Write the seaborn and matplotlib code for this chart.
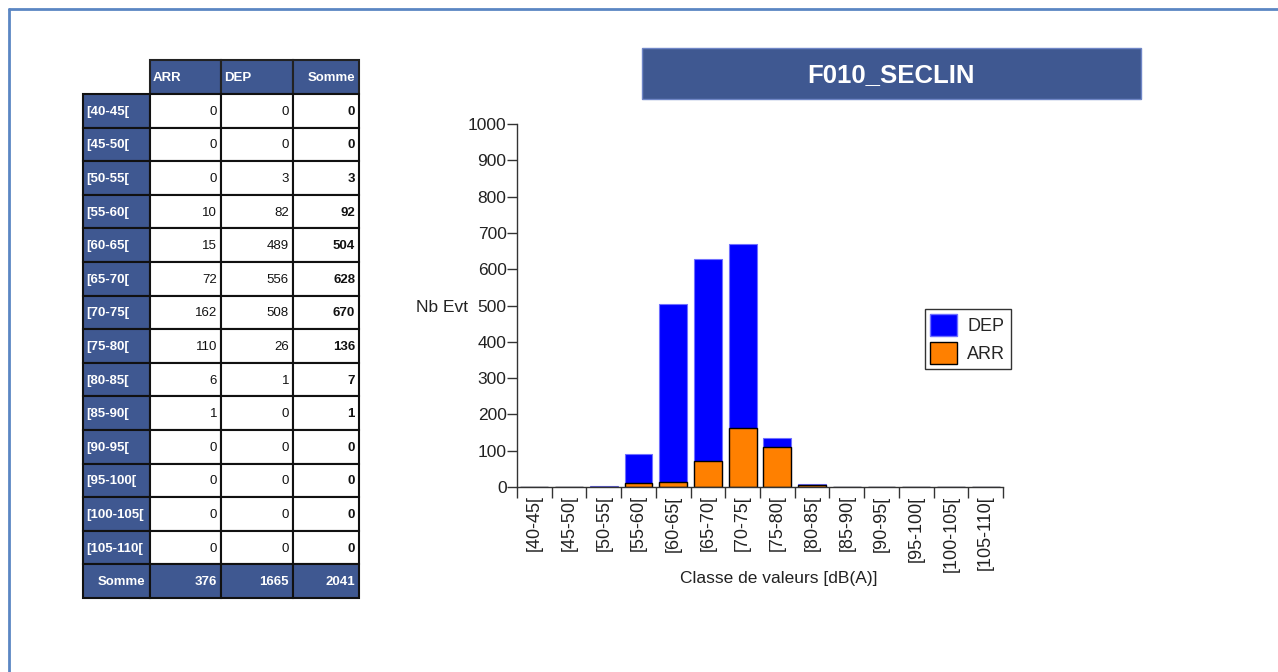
import pandas as pd
import matplotlib
matplotlib.use("Agg")
import matplotlib.pyplot as plt
from matplotlib.patches import Rectangle, Patch
import seaborn as sns

CLASSES = ["[40-45[", "[45-50[", "[50-55[", "[55-60[", "[60-65[", "[65-70[", "[70-75[",
           "[75-80[", "[80-85[", "[85-90[", "[90-95[", "[95-100[", "[100-105[", "[105-110["]
ARR = [0, 0, 0, 10, 15, 72, 162, 110, 6, 1, 0, 0, 0, 0]
DEP = [0, 0, 3, 82, 489, 556, 508, 26, 1, 0, 0, 0, 0, 0]
TITLE = "F010_SECLIN"

W, H = 1278, 672
HEAD = "#3F5891"
BLUE = "#0000FF"
ORANGE = "#FF8000"


def main():
    sns.set_style("white")
    plt.rcParams["font.family"] = ["Liberation Sans", "DejaVu Sans"]

    df = pd.DataFrame({"classe": CLASSES, "arr": ARR, "dep": DEP})
    df["somme"] = df["arr"] + df["dep"]

    fig = plt.figure(figsize=(W / 100, H / 100), dpi=100)

    # overlay in pixel coordinates for the frame, table and title
    over = fig.add_axes([0, 0, 1, 1], zorder=0)
    over.set_xlim(0, W)
    over.set_ylim(H, 0)
    over.axis("off")
    over.plot([9, W], [9, 9], color="#5B86C3", lw=2)
    over.plot([9, 9], [9, H], color="#5B86C3", lw=2)

    # table
    fs = 9.5
    xs = [83, 150, 221, 293, 359]
    top, hh, rh = 60, 34, 33.6
    for j, name in enumerate(["ARR", "DEP", "Somme"]):
        over.add_patch(Rectangle((xs[j + 1], top), xs[j + 2] - xs[j + 1], hh,
                                 fc=HEAD, ec="#222222", lw=1.5))
        if name == "Somme":
            over.text(xs[j + 2] - 4, top + hh / 2 + 1, name, color="white", fontsize=fs,
                      fontweight="bold", ha="right", va="center")
        else:
            over.text(xs[j + 1] + 3, top + hh / 2 + 1, name, color="white", fontsize=fs,
                      fontweight="bold", ha="left", va="center")
    rows = list(zip(df["classe"], df["arr"], df["dep"], df["somme"]))
    rows.append(("Somme", df["arr"].sum(), df["dep"].sum(), df["somme"].sum()))
    for i, (lab, a, d, s) in enumerate(rows):
        y0 = top + hh + i * rh
        yc = y0 + rh / 2 + 1
        last = i == len(rows) - 1
        over.add_patch(Rectangle((xs[0], y0), xs[1] - xs[0], rh, fc=HEAD, ec="#111111", lw=1.5))
        if last:
            over.text(xs[1] - 5, yc, lab, color="white", fontsize=fs, fontweight="bold",
                      ha="right", va="center")
        else:
            over.text(xs[0] + 3, yc, lab, color="white", fontsize=fs, fontweight="bold",
                      ha="left", va="center")
        for j, v in enumerate([a, d, s]):
            over.add_patch(Rectangle((xs[j + 1], y0), xs[j + 2] - xs[j + 1], rh,
                                     fc=HEAD if last else "white", ec="#111111", lw=1.5))
            bold = last or j == 2
            over.text(xs[j + 2] - 4, yc, str(v), color="white" if last else "#111111",
                      fontsize=fs, fontweight="bold" if bold else "normal",
                      ha="right", va="center")

    # title box
    over.add_patch(Rectangle((642, 48), 499, 51, fc=HEAD, ec="#6F86C6", lw=1))
    over.text(891, 75, TITLE, color="white", fontsize=18.5, fontweight="bold",
              ha="center", va="center")

    over.text(416, 307, "Nb Evt", fontsize=12.5, color="#222222", ha="left", va="center")
    over.text(779, 578, "Classe de valeurs [dB(A)]", fontsize=12.5, color="#222222",
              ha="center", va="center")

    # bar chart
    ax = fig.add_axes([517 / W, 1 - 487 / H, 486 / W, 363 / H], zorder=1)
    ax.patch.set_alpha(0)
    sns.barplot(data=df, x="classe", y="somme", color=BLUE, saturation=1, width=0.8,
                edgecolor="#7070FF", linewidth=0.8, ax=ax)
    sns.barplot(data=df, x="classe", y="arr", color=ORANGE, saturation=1, width=0.8,
                edgecolor="black", linewidth=1, ax=ax)

    ax.set_xlim(-0.5, len(CLASSES) - 0.5)
    ax.set_ylim(0, 1000)
    ax.set_xlabel("")
    ax.set_ylabel("")
    for side in ["top", "right"]:
        ax.spines[side].set_visible(False)
    for side in ["left", "bottom"]:
        ax.spines[side].set_color("#333333")
        ax.spines[side].set_linewidth(1)

    ax.set_yticks(range(0, 1001, 100))
    ax.tick_params(axis="y", length=7, width=1, color="#333333", labelsize=12.5,
                   labelcolor="#222222", pad=0.5, left=True)
    ax.set_xticks([i - 0.5 for i in range(len(CLASSES) + 1)])
    ax.set_xticklabels([])
    ax.tick_params(axis="x", which="major", length=8, width=1, color="#333333", bottom=True)
    ax.set_xticks(range(len(CLASSES)), minor=True)
    ax.set_xticklabels(CLASSES, minor=True, rotation=90, fontsize=13, color="#222222")
    ax.tick_params(axis="x", which="minor", length=0, pad=6)

    ax.legend(handles=[Patch(fc=BLUE, ec="#7070FF", label="DEP"),
                       Patch(fc=ORANGE, ec="black", label="ARR")],
              loc="upper left", bbox_to_anchor=(925 / W, 1 - 309 / H),
              bbox_transform=fig.transFigure, frameon=True, fancybox=False,
              edgecolor="#333333", framealpha=1, fontsize=13, handlelength=1.45,
              handleheight=1.45, borderpad=0.3, labelspacing=0.35, handletextpad=0.6,
              borderaxespad=0)

    fig.savefig("out.png", dpi=100)


if __name__ == '__main__':
    main()
